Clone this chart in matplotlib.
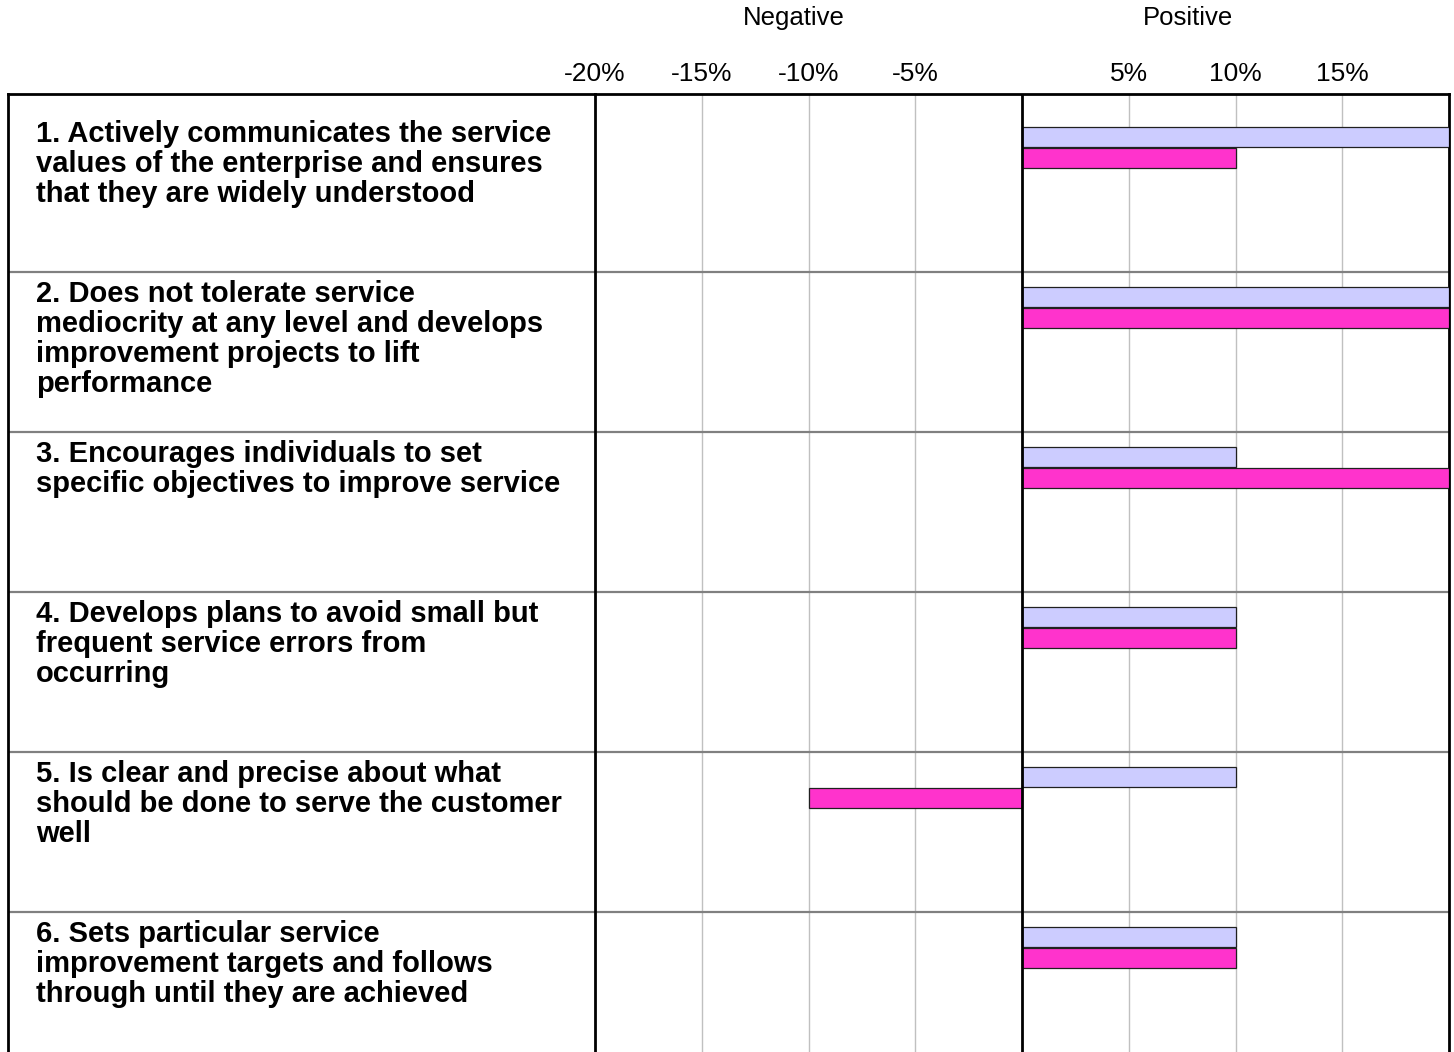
import matplotlib
matplotlib.use("Agg")
import matplotlib.pyplot as plt

plt.rcParams['font.family'] = ['Liberation Sans', 'DejaVu Sans']

statements = [
    "1. Actively communicates the service\nvalues of the enterprise and ensures\nthat they are widely understood",
    "2. Does not tolerate service\nmediocrity at any level and develops\nimprovement projects to lift\nperformance",
    "3. Encourages individuals to set\nspecific objectives to improve service",
    "4. Develops plans to avoid small but\nfrequent service errors from\noccurring",
    "5. Is clear and precise about what\nshould be done to serve the customer\nwell",
    "6. Sets particular service\nimprovement targets and follows\nthrough until they are achieved",
]
series_a = [20, 20, 10, 10, 10, 10]   # light bars
series_b = [10, 20, 20, 10, -10, 10]  # pink bars
tick_vals = [-20, -15, -10, -5, 5, 10, 15]
tick_labels = ["-20%", "-15%", "-10%", "-5%", "5%", "10%", "15%"]

W, H = 1454, 1052
fig = plt.figure(figsize=(W / 100, H / 100), dpi=100)
fig.patch.set_facecolor("white")

top = 1 - 94 / H
ax_lbl = fig.add_axes([8 / W, 0, (595 - 8) / W, top])
ax = fig.add_axes([595 / W, 0, (1449 - 595) / W, top])

ylim = (5.875, -0.1125)
n = len(statements)
rows = list(range(n))

# bars
bh = 0.125
ax.barh([r + 0.15625 for r in rows], series_a, height=bh, color="#CCCCFF",
        edgecolor="#202020", linewidth=0.9, zorder=3)
ax.barh([r + 0.2875 for r in rows], series_b, height=bh, color="#FF33CC",
        edgecolor="#202020", linewidth=0.9, zorder=3)

ax.set_xlim(-20, 20)
ax.set_ylim(*ylim)
for v in tick_vals:
    ax.axvline(v, color="#c0c0c0", linewidth=1, zorder=1)
ax.axvline(0, color="black", linewidth=2, zorder=4)

for a in (ax, ax_lbl):
    a.set_ylim(*ylim)
    for r in range(1, n):
        a.axhline(r, color="#808080", linewidth=1.6, zorder=2)
    a.spines['bottom'].set_visible(False)
    a.spines['top'].set_linewidth(2)
    a.set_yticks([])

ax.spines['left'].set_linewidth(2)
ax.spines['right'].set_linewidth(2)
ax_lbl.spines['left'].set_linewidth(2)
ax_lbl.spines['right'].set_visible(False)
ax_lbl.set_xticks([])
ax_lbl.set_xlim(0, 1)

ax.xaxis.tick_top()
ax.set_xticks(tick_vals)
ax.set_xticklabels(tick_labels, fontsize=19)
ax.tick_params(axis='x', length=0, pad=6)

ax.text(0.233, 1 + 76 / 958, "Negative", transform=ax.transAxes,
        ha="center", va="center", fontsize=18.5)
ax.text(0.694, 1 + 76 / 958, "Positive", transform=ax.transAxes,
        ha="center", va="center", fontsize=18.5)

for r, s in zip(rows, statements):
    ax_lbl.text(28 / 587, r + 0.05, s, ha="left", va="top", fontsize=21,
                fontweight="bold", linespacing=1.09)

fig.savefig("out.png", dpi=100)
